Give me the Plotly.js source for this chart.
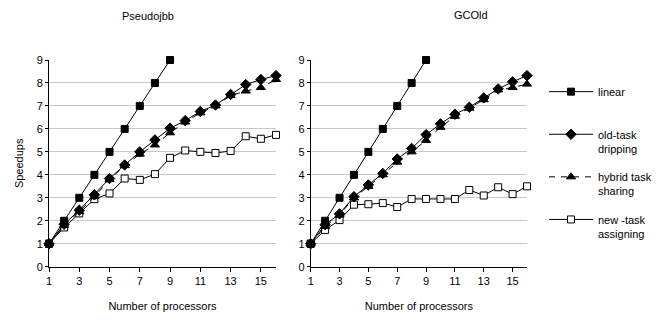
<!DOCTYPE html>
<html>
<head>
<meta charset="utf-8">
<script src="https://cdn.plot.ly/plotly-3.0.1.min.js"></script>
<style>html,body{margin:0;padding:0;background:#fff;}#chart{width:665px;height:324px;}</style>
</head>
<body>
<div id="chart"></div>
<script>
// Shared x values (number of processors)
var procs = [1,2,3,4,5,6,7,8,9,10,11,12,13,14,15,16];
var linearProcs = [1,2,3,4,5,6,7,8,9];
var linearSpeedup = [1,2,3,4,5,6,7,8,9];

// Pseudojbb
var pjOld    = [1, 1.85, 2.46, 3.13, 3.84, 4.43, 5.0, 5.52, 6.03, 6.36, 6.76, 7.04, 7.5, 7.93, 8.15, 8.32];
var pjHybrid = [1, 1.8, 2.4, 3.05, 3.8, 4.4, 4.9, 5.3, 5.83, 6.3, 6.7, 7.0, 7.45, 7.65, 7.8, 8.15];
var pjNew    = [1, 1.71, 2.32, 2.94, 3.19, 3.84, 3.78, 4.03, 4.74, 5.06, 5.0, 4.95, 5.04, 5.68, 5.57, 5.74];

// GCOld
var gcOld    = [1, 1.83, 2.3, 3.05, 3.56, 4.06, 4.69, 5.15, 5.75, 6.22, 6.64, 6.94, 7.35, 7.74, 8.05, 8.32];
var gcHybrid = [1, 1.75, 2.25, 3.0, 3.5, 4.0, 4.55, 5.0, 5.5, 6.07, 6.55, 6.9, 7.27, 7.7, 7.8, 7.95];
var gcNew    = [1, 1.6, 2.03, 2.7, 2.72, 2.77, 2.6, 2.95, 2.95, 2.95, 2.95, 3.34, 3.1, 3.46, 3.16, 3.5];

var seriesNames = ['linear<br> ', 'old-task<br>dripping', 'hybrid task<br>sharing', 'new -task<br>assigning'];
var xTickVals = [1,3,5,7,9,11,13,15];
var yTickVals = [0,1,2,3,4,5,6,7,8,9];
var panelTitles = ['Pseudojbb', 'GCOld'];

var W = 665, H = 324;
function px(x){ return x / W; }
function py(y){ return 1 - y / H; }

var styles = [
  {marker:{symbol:'square', size:7, color:'#000', line:{color:'#000', width:1}}, line:{color:'#000', width:1}},
  {marker:{symbol:'diamond', size:8, color:'#000', line:{color:'#000', width:1}}, line:{color:'#000', width:1}},
  {marker:{symbol:'triangle-up', size:8, color:'#000', line:{color:'#000', width:1}}, line:{color:'#000', width:1, dash:'6px,6px'}},
  {marker:{symbol:'square', size:7, color:'#fff', line:{color:'#000', width:1}}, line:{color:'#000', width:1}}
];

function makeTraces(xa, ya, ys, showLeg){
  var xs = [linearProcs, procs, procs, procs];
  var out = [];
  for (var i = ys.length - 1; i >= 0; i--) {
    out.push({
      type:'scatter', mode:'lines+markers', x:xs[i], y:ys[i],
      xaxis:xa, yaxis:ya, name:seriesNames[i],
      marker:styles[i].marker, line:styles[i].line,
      cliponaxis:false, showlegend:showLeg, legendgroup:'g'+i, legendrank:i+1
    });
  }
  return out;
}

var data = [].concat(
  makeTraces('x', 'y', [linearSpeedup, pjOld, pjHybrid, pjNew], true),
  makeTraces('x2', 'y2', [linearSpeedup, gcOld, gcHybrid, gcNew], false)
);

var font = {family:'Liberation Sans, Arial, sans-serif', size:11, color:'#000'};
function xAxis(d0, d1, anchor){
  return {domain:[px(d0), px(d1)], range:[1,16], anchor:anchor,
    tickmode:'array', tickvals:xTickVals, ticks:'outside', ticklen:4, tickcolor:'#000',
    showline:true, linecolor:'#000', linewidth:1, showgrid:false, zeroline:false,
    tickfont:font, title:{text:'Number of processors', font:font, standoff:16}};
}
function yAxis(anchor, title){
  return {domain:[py(266.7), py(60)], range:[0,9], anchor:anchor,
    tickmode:'array', tickvals:yTickVals, ticks:'outside', ticklen:3, tickcolor:'#000',
    showline:true, linecolor:'#000', linewidth:1, showgrid:true, gridcolor:'#c8c8c8', gridwidth:1,
    zeroline:false, tickfont:font,
    title: title ? {text:title, font:font, standoff:10} : {text:''}};
}

var layout = {
  width:W, height:H, margin:{l:0, r:0, t:0, b:0},
  paper_bgcolor:'#fff', plot_bgcolor:'#fff', font:font,
  xaxis: xAxis(49, 276, 'y'),
  yaxis: yAxis('x', 'Speedups'),
  xaxis2: xAxis(310.7, 527, 'y2'),
  yaxis2: yAxis('x2', null),
  showlegend:true,
  legend:{x:px(544), y:py(78), xanchor:'left', yanchor:'top', font:font,
    bgcolor:'rgba(0,0,0,0)', borderwidth:0, tracegroupgap:11, valign:'top', itemwidth:44,
    traceorder:'grouped'},
  annotations:[
    {text:panelTitles[0], xref:'paper', yref:'paper', x:px(148), y:py(16), showarrow:false, font:font, xanchor:'center', yanchor:'middle'},
    {text:panelTitles[1], xref:'paper', yref:'paper', x:px(471), y:py(15), showarrow:false, font:font, xanchor:'center', yanchor:'middle'}
  ]
};

Plotly.newPlot('chart', data, layout, {displayModeBar:false, staticPlot:true});
</script>
</body>
</html>
